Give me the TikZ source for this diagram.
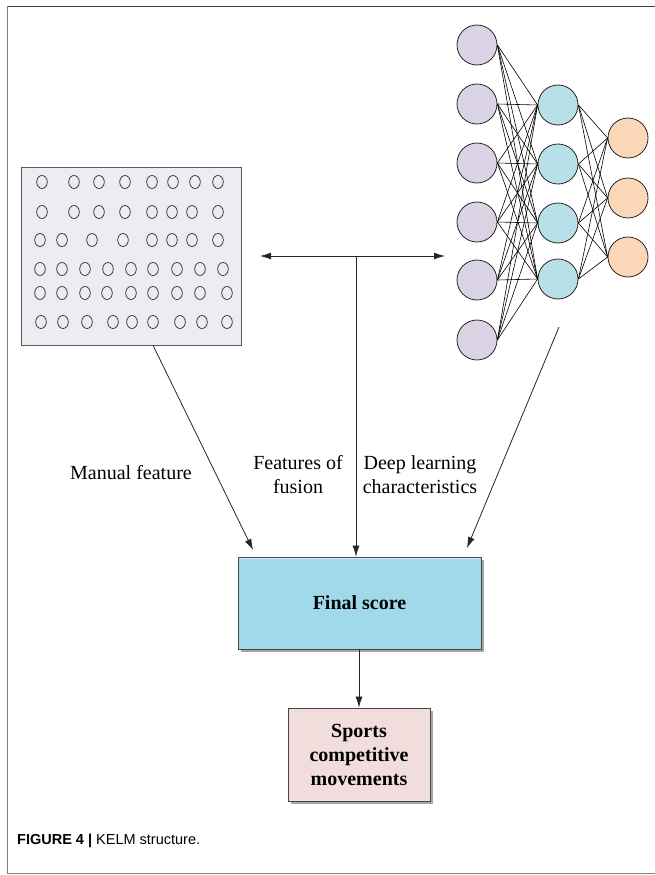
\documentclass[tikz,border=0pt]{standalone}
\usepackage{fontspec}
\setmainfont{Liberation Serif}
\setsansfont{Liberation Sans}
\usetikzlibrary{arrows.meta,shadows,calc}
\definecolor{boxlav}{RGB}{238,235,243}
\definecolor{inlav}{RGB}{217,211,228}
\definecolor{hidcyan}{RGB}{183,224,232}
\definecolor{outpeach}{RGB}{251,215,184}
\definecolor{finalcyan}{RGB}{160,218,234}
\definecolor{sportpink}{RGB}{242,221,221}
\definecolor{edgegray}{RGB}{70,70,70}
\begin{document}
\begin{tikzpicture}[x=1pt,y=-1pt,
  lbl/.style={font=\fontsize{20}{24}\selectfont, align=center, inner sep=0pt},
  neuron/.style={circle, minimum size=40pt, inner sep=0pt, draw=black!85, line width=0.8pt},
  netline/.style={draw=black, line width=0.6pt},
  conn/.style={draw=black!85, line width=0.8pt, -{Latex[length=11pt,width=7pt]}},
  dot/.style={draw=black!85, line width=0.7pt},
  resbox/.style={rectangle, draw=edgegray, line width=0.9pt, inner sep=0pt,
    font=\fontsize{20}{24}\selectfont\bfseries, align=center,
    drop shadow={shadow xshift=3pt, shadow yshift=-3pt, fill=black, opacity=0.35}},
  frameline/.style={line width=1.5pt}
]
\useasboundingbox (0,0) rectangle (655,875);
% outer frame
\draw[frameline, draw=black!75] (7,6.5) -- (655,6.5);
\draw[frameline, draw=black!50] (7.5,6) -- (7.5,874);
\draw[frameline, draw=black!50] (7,873.5) -- (655,873.5);

% left feature box
\node[rectangle, draw=black!65, line width=0.9pt, fill=boxlav, minimum width=220pt, minimum height=178pt, inner sep=0pt] (lbox) at (131,256) {};
\foreach \x in {42,74,99,125,152,173,195,218} \draw[dot] (\x,182) ellipse [x radius=5.3pt, y radius=6.5pt];
\foreach \x in {42,74,99,125,152,172,192,218} \draw[dot] (\x,212) ellipse [x radius=5.3pt, y radius=6.5pt];
\foreach \x in {40,62,92,123,152,172,192,218} \draw[dot] (\x,240) ellipse [x radius=5.3pt, y radius=6.5pt];
\foreach \x in {40,62,85,108,131,153,177,200,223} \draw[dot] (\x,269) ellipse [x radius=5.3pt, y radius=6.5pt];
\foreach \x in {40,62,85,107,131,153,177,200,227} \draw[dot] (\x,293) ellipse [x radius=5.3pt, y radius=6.5pt];
\foreach \x in {41,63,87,113,132,153,180,202,227} \draw[dot] (\x,322) ellipse [x radius=5.3pt, y radius=6.5pt];

% neural network
\foreach \y [count=\i] in {45,104,163,222,280,340} \node[neuron, fill=inlav] (i\i) at (477,\y) {};
\foreach \y [count=\i] in {105,164,223,279} \node[neuron, fill=hidcyan] (h\i) at (558,\y) {};
\foreach \y [count=\i] in {138,198,257} \node[neuron, fill=outpeach] (o\i) at (628,\y) {};
\foreach \i in {1,...,6} \foreach \j in {1,...,4} \draw[netline] (i\i.east) -- (h\j.west);
\foreach \i in {1,...,4} \foreach \j in {1,...,3} \draw[netline] (h\i.east) -- (o\j.west);

% result boxes
\node[resbox, fill=finalcyan, minimum width=243pt, minimum height=92pt] (final) at (359.5,603) {Final score};
\draw[white, opacity=0.6, line width=1.2pt] ($(final.north west)+(1.5,2)$) -- ($(final.north east)+(-1.5,2)$);
\node[resbox, fill=sportpink, minimum width=142pt, minimum height=93pt] (sports) at (359,754.5) {Sports\\competitive\\movements};

% fusion double arrow
\coordinate (da1) at (260,256);
\coordinate (da2) at (445,256);
\coordinate (fus) at (356,256);
\draw[draw=black!85, line width=0.8pt, {Latex[length=11pt,width=7pt]}-{Latex[length=11pt,width=7pt]}] (da1) -- (da2);

% connectors
\coordinate (ls) at ($(lbox.south west)!0.6!(lbox.south east)$);
\coordinate (le) at (253,550);
\coordinate (rs) at (559,327);
\coordinate (re) at (467,548);
\draw[conn] (ls) -- (le);
\draw[conn] (fus) -- (fus |- final.north);
\draw[conn] (rs) -- (re);
\draw[conn] (final.south -| sports.north) -- (sports.north);

% labels
\node[lbl] (lman) at (131,473) {Manual feature};
\node[lbl] (lfus) at (298,475) {Features of\\fusion};
\node[lbl] (ldeep) at (420,475) {Deep learning\\characteristics};

% caption
\node[anchor=west, inner sep=0pt, font=\sffamily\fontsize{14.5}{17}\selectfont] (cap) at (17,841) {\textbf{FIGURE 4 |} KELM structure.};
\end{tikzpicture}
\end{document}
